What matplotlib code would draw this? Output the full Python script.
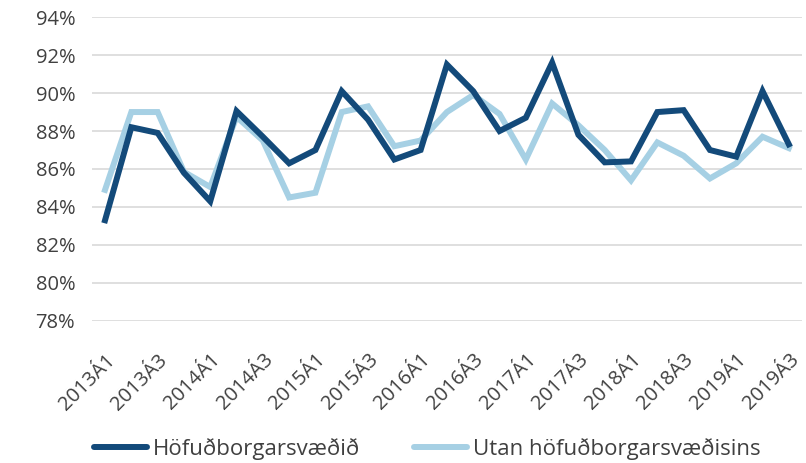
import matplotlib.pyplot as plt
import matplotlib.ticker as mticker

plt.rcParams['font.family'] = ['Open Sans', 'DejaVu Sans']

quarters = [f'{y}Á{q}' for y in range(2013, 2020) for q in range(1, 5)][:27]
hofud = [83.3, 88.2, 87.9, 85.8, 84.3, 89.05, 87.7, 86.3, 87.0, 90.1,
         88.6, 86.5, 87.0, 91.5, 90.1, 88.0, 88.7, 91.6, 87.8, 86.35,
         86.4, 89.0, 89.1, 87.0, 86.65, 90.1, 87.3]
utan = [84.9, 89.0, 89.0, 85.85, 85.05, 88.75, 87.5, 84.5, 84.75, 89.0,
        89.3, 87.2, 87.5, 89.0, 89.9, 88.9, 86.5, 89.45, 88.3, 87.0,
        85.4, 87.4, 86.7, 85.5, 86.3, 87.7, 87.1]

fig = plt.figure(figsize=(8.06, 4.63), dpi=100)
ax = fig.add_axes([0.114, 0.307, 0.881, 0.656])

x = range(len(quarters))
ax.plot(x, hofud, color='#134A7A', lw=4.3, label='Höfuðborgarsvæðið', solid_joinstyle='miter', zorder=3)
ax.plot(x, utan, color='#A6D0E4', lw=4.3, label='Utan höfuðborgarsvæðisins', solid_joinstyle='miter')

ax.set_ylim(78, 94)
ax.set_xlim(-0.5, len(quarters) - 0.5)
ax.yaxis.set_major_locator(mticker.MultipleLocator(2))
ax.yaxis.set_major_formatter(mticker.FuncFormatter(lambda v, p: f'{v:.0f}%'))
ax.grid(axis='y', color='#D9D9D9', lw=1.2)
ax.set_axisbelow(True)
for s in ax.spines.values():
    s.set_visible(False)

ax.set_xticks(list(x)[::2])
ax.set_xticklabels(quarters[::2], rotation=45, ha='right', rotation_mode='anchor')
ax.tick_params(axis='both', length=0, labelsize=14.5, colors='#404040')
ax.tick_params(axis='x', pad=21)
ax.tick_params(axis='y', pad=12)

leg = fig.legend(loc='center', bbox_to_anchor=(0.53, 0.03), ncol=2, frameon=False,
                 fontsize=16, handlelength=2.4, handletextpad=0.27, columnspacing=2.4,
                 labelcolor='#404040')
for h in leg.get_lines():
    h.set_solid_capstyle('round')

fig.savefig('out.png', dpi=100)
